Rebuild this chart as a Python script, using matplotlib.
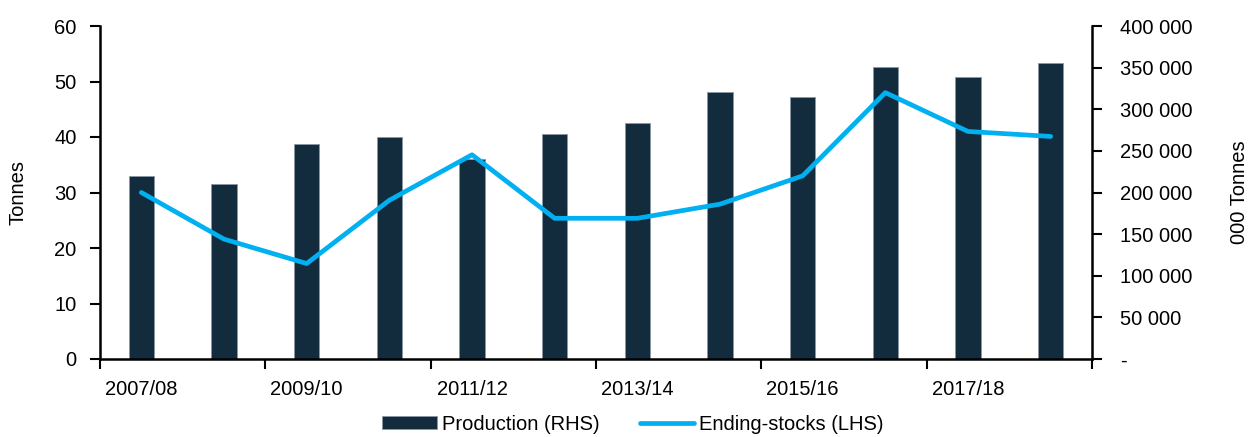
import matplotlib
matplotlib.use("Agg")
import matplotlib.pyplot as plt
from matplotlib.ticker import FuncFormatter, FixedLocator, NullFormatter

plt.rcParams['font.family'] = ['Liberation Sans', 'DejaVu Sans']

seasons = ["2007/08", "2008/09", "2009/10", "2010/11", "2011/12", "2012/13",
           "2013/14", "2014/15", "2015/16", "2016/17", "2017/18", "2018/19"]
production_rhs = [220000, 210500, 258300, 266700, 240000, 270300,
                  283900, 320300, 314700, 350400, 338300, 355200]
ending_stocks_lhs = [30.0, 21.6, 17.2, 28.6, 36.8, 25.35,
                     25.35, 27.9, 33.0, 48.0, 41.0, 40.1]

left_ticks = [0, 10, 20, 30, 40, 50, 60]
right_ticks = [0, 50000, 100000, 150000, 200000, 250000, 300000, 350000, 400000]

BAR = "#122B3D"
LINE = "#00B0F0"
FS = 14.5

fig = plt.figure(figsize=(12.55, 4.37), dpi=100)
ax = fig.add_axes([100/1255, 1-359/437, 992/1255, 333/437])
ax2 = ax.twinx()

x = list(range(len(seasons)))
bars = ax2.bar(x, production_rhs, width=0.31, color=BAR, edgecolor="#8A98A6",
               linewidth=0.6, label="Production (RHS)")
line, = ax.plot(x, ending_stocks_lhs, color=LINE, lw=3.4, solid_capstyle='round',
                solid_joinstyle='round', label="Ending-stocks (LHS)")

ax.set_zorder(ax2.get_zorder() + 1)
ax.patch.set_visible(False)

ax.set_xlim(-0.5, len(seasons) - 0.5)
ax.set_ylim(0, 60)
ax2.set_ylim(0, 400000)

ax.set_yticks(left_ticks)
ax2.set_yticks(right_ticks)

def rfmt(v, pos):
    if v == 0:
        return "-"
    return f"{int(v):,}".replace(",", " ")
ax2.yaxis.set_major_formatter(FuncFormatter(rfmt))

# x ticks: majors at group boundaries, labels centered on every other category
ax.xaxis.set_major_locator(FixedLocator([i - 0.5 for i in range(0, len(seasons) + 1, 2)]))
ax.xaxis.set_major_formatter(NullFormatter())
ax.xaxis.set_minor_locator(FixedLocator(x[::2]))
ax.set_xticklabels([seasons[i] for i in x[::2]], minor=True)
ax.tick_params(axis='x', which='minor', length=0, pad=15, labelsize=FS)
ax.tick_params(axis='x', which='major', length=7, width=1.5, direction='out')
ax.tick_params(axis='y', length=7, width=1.5, direction='out', labelsize=FS, pad=10)
ax2.tick_params(axis='y', length=7, width=1.5, direction='out', labelsize=FS, pad=13)
ax2.tick_params(axis='x', length=0)

for a in (ax, ax2):
    a.spines['top'].set_visible(False)
    for s in ('left', 'right', 'bottom'):
        a.spines[s].set_linewidth(1.8)
ax.spines['right'].set_visible(False)
ax2.spines['left'].set_visible(False)
ax2.spines['bottom'].set_visible(False)

ax.set_ylabel("Tonnes", fontsize=FS)
ax2.set_ylabel("000 Tonnes", fontsize=FS)
ax.yaxis.set_label_coords(-72/992, 0.5)
ax2.yaxis.set_label_coords(1 + 138/992, 0.5)

leg = fig.legend([bars, line], ["Production (RHS)", "Ending-stocks (LHS)"],
                 loc='center', bbox_to_anchor=(633/1255, 13/437), ncol=2,
                 frameon=False, fontsize=FS, handlelength=2.7, handleheight=0.6,
                 columnspacing=2.0, handletextpad=0.25)

fig.savefig("out.png", dpi=100)
